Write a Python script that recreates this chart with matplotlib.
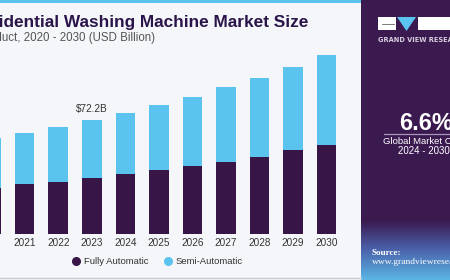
import matplotlib
matplotlib.use("Agg")
import matplotlib.pyplot as plt
import numpy as np
from matplotlib.patches import Rectangle, Polygon
from matplotlib.lines import Line2D

years = ["2020", "2021", "2022", "2023", "2024", "2025", "2026", "2027", "2028", "2029", "2030"]
fully_automatic = [29.4, 31.6, 33.2, 35.6, 38.1, 40.6, 43.1, 45.9, 49.0, 53.3, 56.6]
totals = [60.6, 63.8, 67.6, 72.2, 76.8, 81.5, 86.5, 92.9, 98.9, 105.7, 113.1]
semi_automatic = [round(t - f, 1) for t, f in zip(totals, fully_automatic)]
series_names = ["Fully Automatic", "Semi-Automatic"]
highlight_label = "$72.2B"
highlight_year = "2023"

W, H = 450, 280
DARK = "#371546"
LIGHT = "#5bc4ee"
BG = "#f4f6f9"
PANEL = "#3b1a50"

fig = plt.figure(figsize=(W / 100, H / 100), dpi=100)
fig.patch.set_facecolor(BG)

def fx(px):
    return px / W

def fy(py):
    return 1 - py / H

# top blue strip
fig.patches.append(Rectangle((0, fy(3)), fx(361), 3 / H, transform=fig.transFigure,
                             facecolor=LIGHT, edgecolor="none"))
# bottom gray line
fig.add_artist(Line2D([0, fx(361)], [fy(278), fy(278)], transform=fig.transFigure,
                      color="#c9cbd0", lw=1))

# main axes
spacing = 33.56
x_left_px = -8.9
ax_w_px = 350
xmin = -x_left_px / spacing
bottom_px = 280 - 234.3
top_px = 280 - 40
scale = 72.2 / 114.3
ax = fig.add_axes([0, bottom_px / H, ax_w_px / W, (top_px - bottom_px) / H])
ax.set_facecolor("none")
x = np.arange(len(years))
ax.bar(x, fully_automatic, width=0.58, color=DARK)
ax.bar(x, semi_automatic, width=0.58, bottom=fully_automatic, color=LIGHT)
for s in ax.spines.values():
    s.set_visible(False)
ax.set_yticks([])
ax.set_xticks(x)
ax.set_xticklabels(years, fontsize=7.2, color="#333333", family="Liberation Sans")
ax.tick_params(axis="x", length=0, pad=3)
ax.set_xlim(xmin, xmin + ax_w_px / spacing)
ax.set_ylim(0, (top_px - bottom_px) * scale)
hi = years.index(highlight_year)
ax.text(hi, totals[hi] + 3.5, highlight_label, ha="center", va="bottom", fontsize=7.2,
        color="#333333", family="Liberation Sans")

# legend
handles = [Line2D([], [], marker="o", ls="none", color=DARK, markersize=5.5),
           Line2D([], [], marker="o", ls="none", color=LIGHT, markersize=5.5)]
fig.legend(handles, series_names, loc="center left", bbox_to_anchor=(fx(64), fy(262)),
           ncol=2, frameon=False, handlelength=0.8, handletextpad=0.45,
           columnspacing=1.6, prop={"family": "Liberation Sans", "size": 6.8},
           labelcolor="#333333")

# title
fig.text(fx(308), fy(23), "Residential Washing Machine Market Size", ha="right", va="center",
         fontsize=12.45, fontweight="bold", color="#2b1449", family="Liberation Sans")
fig.text(fx(155), fy(38), "by Product, 2020 - 2030 (USD Billion)", ha="right", va="center",
         fontsize=8.3, color="#555555", family="Liberation Sans")

# right panel with gradient
pax = fig.add_axes([fx(361), 0, 1 - fx(361), 1])
pax.set_axis_off()
c1 = np.array(matplotlib.colors.to_rgb(PANEL))
c2 = np.array(matplotlib.colors.to_rgb("#4a5fa8"))
c3 = np.array(matplotlib.colors.to_rgb("#5bb8e6"))
rows = []
for r in range(H):
    if r < 220:
        rows.append(c1)
    elif r < 248:
        t = (r - 220) / 28
        rows.append(c1 * (1 - t) + c2 * t)
    else:
        t = (r - 248) / 32
        rows.append(c2 * (1 - t) + c3 * t)
grad = np.array(rows)[:, None, :].repeat(4, axis=1)
pax.imshow(grad, aspect="auto", extent=[0, 1, 0, 1], origin="upper")
pax.set_xlim(0, 1)
pax.set_ylim(0, 1)

# logo
fig.patches.append(Rectangle((fx(378), fy(30)), fx(18), 13 / H, transform=fig.transFigure,
                             facecolor="white", edgecolor="none"))
fig.add_artist(Line2D([fx(382), fx(394)], [fy(24), fy(24)], transform=fig.transFigure,
                      color="#666666", lw=0.6))
fig.patches.append(Polygon([(fx(397), fy(17)), (fx(416), fy(17)), (fx(406.5), fy(31))],
                           closed=True, transform=fig.transFigure, facecolor=LIGHT,
                           edgecolor="none"))
fig.patches.append(Rectangle((fx(418), fy(30)), fx(40), 13 / H, transform=fig.transFigure,
                             facecolor="white", edgecolor="none"))
fig.text(fx(378), fy(40), "GRAND VIEW RESEARCH", ha="left", va="center", fontsize=4.8,
         fontweight="bold", color="#d8d0e0", family="DejaVu Sans")

fig.text(fx(399), fy(124), "6.6%", ha="left", va="center", fontsize=17, fontweight="bold",
         color="white", family="Liberation Sans")
fig.add_artist(Line2D([fx(384), 1], [fy(134), fy(134)], transform=fig.transFigure,
                      color="#a896b8", lw=0.9))
fig.text(fx(383), fy(142), "Global Market CAGR", ha="left", va="center", fontsize=6.8,
         color="white", family="Liberation Sans")
fig.text(fx(398), fy(151), "2024 - 2030", ha="left", va="center", fontsize=7,
         color="white", family="Liberation Sans")
fig.text(fx(372), fy(253), "Source:", ha="left", va="center", fontsize=6.6,
         fontweight="bold", color="white", family="Liberation Serif")
fig.text(fx(372), fy(262), "www.grandviewresearch.com", ha="left", va="center", fontsize=6.8,
         color="white", family="Liberation Serif")

fig.savefig("out.png", dpi=100, facecolor=fig.get_facecolor())
